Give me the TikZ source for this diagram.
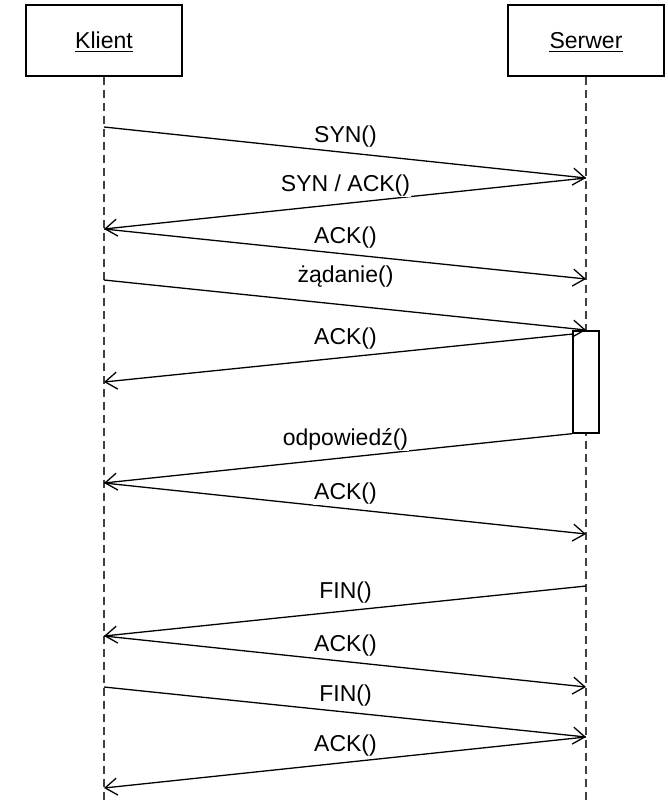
\documentclass[tikz,border=0pt]{standalone}
\usepackage{fontspec}
\setmainfont{Liberation Sans}
\usetikzlibrary{arrows.meta}
\tikzset{
  actor/.style={draw=black, line width=1.3pt, fill=white, minimum width=156pt, minimum height=71pt, inner sep=0pt},
  actortext/.style={inner sep=0pt, font=\fontsize{23}{27}\selectfont},
  lifeline/.style={draw=black!75, line width=1.5pt, dash pattern=on 8pt off 5pt},
  msg/.style={draw=black, line width=1.3pt, -{Straight Barb[length=12pt,width=17pt,line width=1.3pt]}},
  lbl/.style={fill=white, inner sep=1pt, anchor=base, font=\fontsize{23}{27}\selectfont},
  activation/.style={draw=black, line width=1.3pt, fill=white, minimum width=26pt, minimum height=102pt, inner sep=0pt}
}
\begin{document}
\begin{tikzpicture}[x=1pt,y=-1pt]
\useasboundingbox (0,0) rectangle (667,803);
% actors
\node[actor] (klient) at (104,40.5) {};
\node[actor] (serwer) at (586,40.5) {};
\node[actortext] (kt) at (104,40.5) {Klient};
\node[actortext] (st) at (586,40.5) {Serwer};
\draw[line width=1.2pt] ([yshift=-3pt]kt.base west) -- ([yshift=-3pt]kt.base east);
\draw[line width=1.2pt] ([yshift=-3pt]st.base west) -- ([yshift=-3pt]st.base east);
% lifelines
\coordinate (kend) at (104,803);
\coordinate (send) at (586,803);
\draw[lifeline] (klient.south) -- (kend);
\draw[lifeline] (serwer.south) -- (send);
% activation
\node[activation] (act) at (586,382) {};
% endpoints
\coordinate (k1) at (104,127);  \coordinate (s1) at (586,178);
\coordinate (k2) at (104,229);
\coordinate (s3) at (586,279);
\coordinate (k4) at (104,280);  \coordinate (s4) at (586,330);
\coordinate (a5) at (573,334);  \coordinate (k5) at (104,382);
\coordinate (k7) at (104,483);
\coordinate (s8) at (586,534);
\coordinate (s9) at (586,586);  \coordinate (k9) at (104,636);
\coordinate (s10) at (586,687);
\coordinate (k11) at (104,687); \coordinate (s11) at (586,737);
\coordinate (k12) at (104,788);
% messages
\draw[msg] (k1) -- (s1);
\draw[msg] (s1) -- (k2);
\draw[msg] (k2) -- (s3);
\draw[msg] (k4) -- (s4);
\draw[msg] (a5) -- (k5);
\draw[msg] (act.south west) -- (k7);
\draw[msg] (k7) -- (s8);
\draw[msg] (s9) -- (k9);
\draw[msg] (k9) -- (s10);
\draw[msg] (k11) -- (s11);
\draw[msg] (s11) -- (k12);
% labels
\node[lbl] (l1) at (345.5,142) {SYN()};
\node[lbl] (l2) at (345.5,191) {SYN / ACK()};
\node[lbl] (l3) at (345.5,243) {ACK()};
\node[lbl] (l4) at (345.5,282) {żądanie()};
\node[lbl] (l5) at (345.5,344) {ACK()};
\node[lbl] (l7) at (345.5,445) {odpowiedź()};
\node[lbl] (l8) at (345.5,499) {ACK()};
\node[lbl] (l9) at (345.5,598) {FIN()};
\node[lbl] (l10) at (345.5,651) {ACK()};
\node[lbl] (l11) at (345.5,701) {FIN()};
\node[lbl] (l12) at (345.5,751) {ACK()};
\end{tikzpicture}
\end{document}
